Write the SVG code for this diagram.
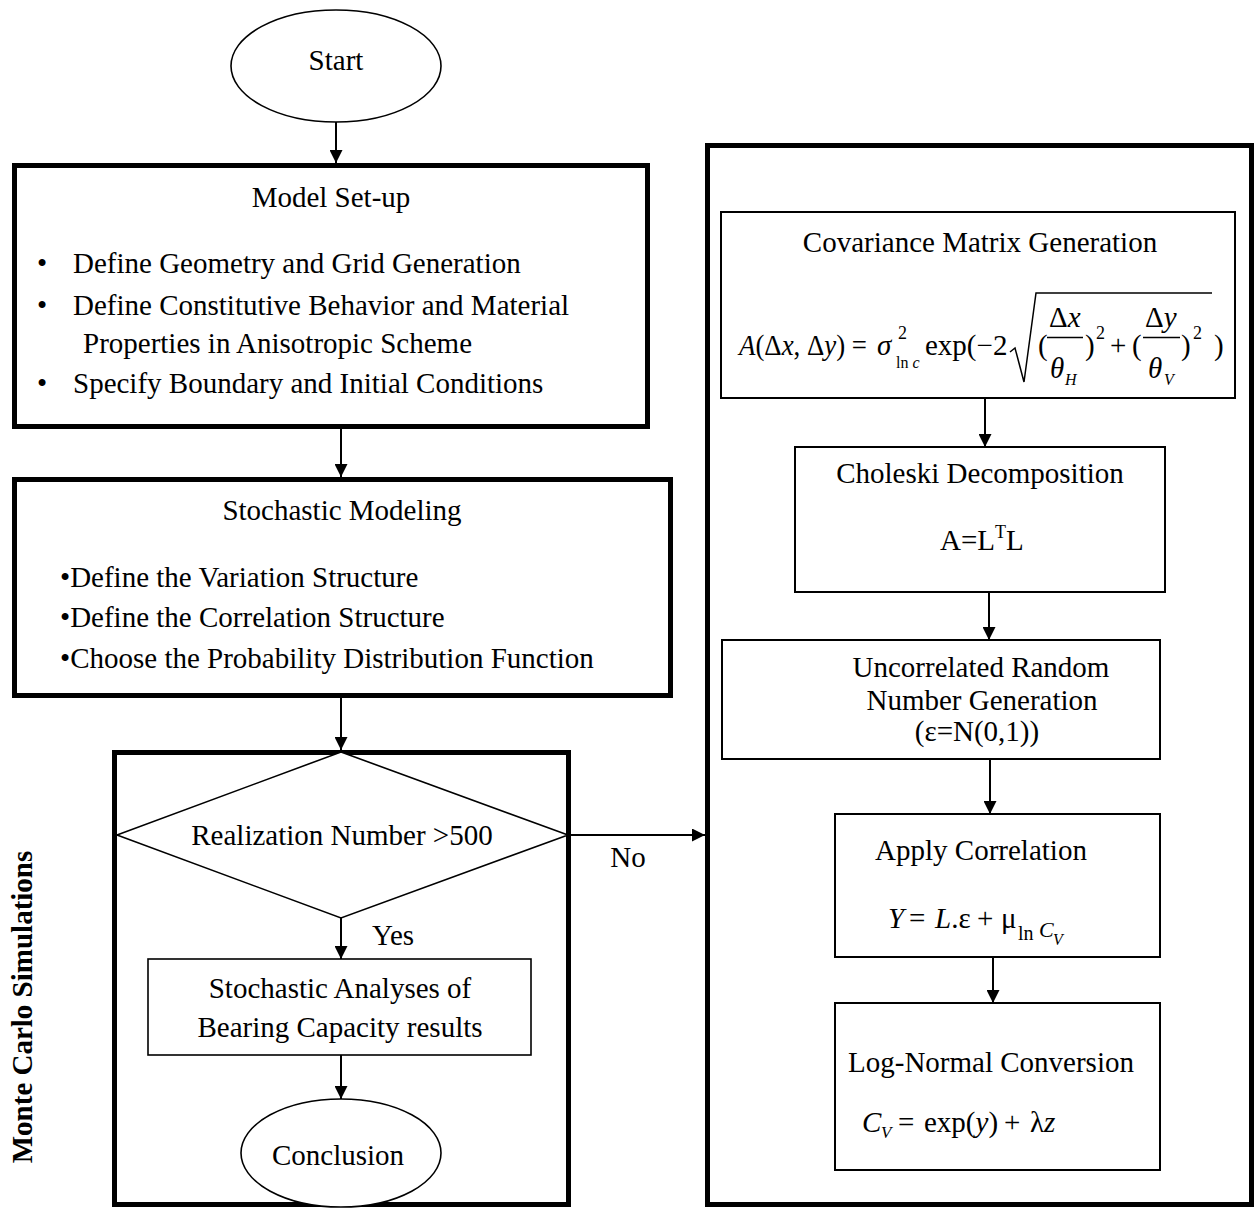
<svg xmlns="http://www.w3.org/2000/svg" width="1257" height="1210" viewBox="0 0 1257 1210">
<defs>
<style>
.t{font-family:"Liberation Serif","Times New Roman",serif;font-size:29px;fill:#000}
.b{font-weight:bold}
.i{font-style:italic}
.m{text-anchor:middle}
.thick{fill:none;stroke:#000;stroke-width:5}
.thin{fill:#fff;stroke:#000;stroke-width:2}
.shape{fill:#fff;stroke:#000;stroke-width:1.6}
.conn{stroke:#000;stroke-width:2;fill:none;marker-end:url(#ah)}
.rad{fill:none;stroke:#000;stroke-width:1.5}
</style>
<marker id="ah" viewBox="0 0 13 13" refX="13" refY="6.5" markerWidth="13" markerHeight="13" markerUnits="userSpaceOnUse" orient="auto">
<path d="M0,0 L13,6.5 L0,13 z" fill="#000"/>
</marker>
</defs>
<rect width="1257" height="1210" fill="#fff"/>

<g id="start">
<ellipse class="shape" cx="336" cy="66" rx="105" ry="56"/>
<text class="t m" x="336" y="70">Start</text>
</g>

<g id="model-setup">
<rect class="thick" x="14.5" y="165.5" width="633" height="261"/>
<text class="t m" x="331" y="207">Model Set-up</text>
<text class="t" x="37" y="273">•</text>
<text class="t" x="73" y="273">Define Geometry and Grid Generation</text>
<text class="t" x="37" y="315">•</text>
<text class="t" x="73" y="315">Define Constitutive Behavior and Material</text>
<text class="t" x="83" y="353">Properties in Anisotropic Scheme</text>
<text class="t" x="37" y="393">•</text>
<text class="t" x="73" y="393">Specify Boundary and Initial Conditions</text>
</g>

<g id="stochastic-modeling">
<rect class="thick" x="14.5" y="479.5" width="656" height="216"/>
<text class="t m" x="342" y="520">Stochastic Modeling</text>
<text class="t" x="60" y="587">•Define the Variation Structure</text>
<text class="t" x="60" y="627">•Define the Correlation Structure</text>
<text class="t" x="60" y="668">•Choose the Probability Distribution Function</text>
</g>

<g id="monte-carlo">
<rect class="thick" x="114.5" y="752.5" width="454" height="452"/>
<text class="t b m" transform="translate(32,1007) rotate(-90)">Monte Carlo Simulations</text>
</g>

<g id="decision">
<polygon class="shape" points="341,752 568,835 341,918 117,835"/>
<text class="t m" x="342" y="845">Realization Number &gt;500</text>
</g>

<g id="stochastic-analyses">
<rect class="shape" x="148" y="959" width="383" height="96"/>
<text class="t m" x="340" y="998">Stochastic Analyses of</text>
<text class="t m" x="340" y="1037">Bearing Capacity results</text>
</g>

<g id="conclusion">
<ellipse class="shape" cx="341" cy="1153" rx="100" ry="54"/>
<text class="t m" x="338" y="1165">Conclusion</text>
</g>

<g id="field-generation">
<rect class="thick" x="707.5" y="145.5" width="544" height="1059"/>
</g>

<g id="covariance">
<rect class="thin" x="721" y="212" width="514" height="186"/>
<text class="t m" x="980" y="252">Covariance Matrix Generation</text>
<text class="t" x="739" y="355" textLength="128" lengthAdjust="spacingAndGlyphs"><tspan class="i">A</tspan>(Δ<tspan class="i">x</tspan>, Δ<tspan class="i">y</tspan>) =</text>
<text class="t i" x="877" y="355">σ</text>
<text class="t" x="898" y="339" style="font-size:18px">2</text>
<text class="t" x="896" y="368" style="font-size:16px">ln<tspan class="i"> c</tspan></text>
<text class="t" x="925" y="355">exp(−2</text>
<path class="rad" d="M1010,352 L1015,348 L1024,382 L1036,293 L1212,293"/>
<text class="t" x="1038" y="355">(</text>
<text class="t" x="1049" y="327">Δ<tspan class="i">x</tspan></text>
<line x1="1047" y1="337.5" x2="1083" y2="337.5" stroke="#000" stroke-width="1.5"/>
<text class="t i" x="1050" y="378">θ</text>
<text class="t i" x="1065" y="385" style="font-size:16px">H</text>
<text class="t" x="1085" y="355">)</text>
<text class="t" x="1096" y="339" style="font-size:18px">2</text>
<text class="t" x="1110" y="355">+</text>
<text class="t" x="1132" y="355">(</text>
<text class="t" x="1145" y="327">Δ<tspan class="i">y</tspan></text>
<line x1="1143" y1="337.5" x2="1180" y2="337.5" stroke="#000" stroke-width="1.5"/>
<text class="t i" x="1148" y="378">θ</text>
<text class="t i" x="1164" y="385" style="font-size:16px">V</text>
<text class="t" x="1181" y="355">)</text>
<text class="t" x="1193" y="339" style="font-size:18px">2</text>
<text class="t" x="1214" y="355">)</text>
</g>

<g id="choleski">
<rect class="thin" x="795" y="447" width="370" height="145"/>
<text class="t m" x="980" y="483">Choleski Decomposition</text>
<text class="t" x="940" y="550">A=L<tspan dy="-12" style="font-size:18px">T</tspan><tspan dy="12">L</tspan></text>
</g>

<g id="uncorrelated">
<rect class="thin" x="722" y="640" width="438" height="119"/>
<text class="t m" x="981" y="677">Uncorrelated Random</text>
<text class="t m" x="982" y="710">Number Generation</text>
<text class="t m" x="977" y="741">(ε=N(0,1))</text>
</g>

<g id="apply-correlation">
<rect class="thin" x="835" y="814" width="325" height="143"/>
<text class="t m" x="981" y="860">Apply Correlation</text>
<text class="t i" x="888" y="928">Y</text>
<text class="t" x="909" y="928">=</text>
<text class="t" x="935" y="928"><tspan class="i">L</tspan>.ε</text>
<text class="t" x="977" y="928">+</text>
<text class="t" x="1001" y="928">μ</text>
<text class="t" x="1018" y="940" style="font-size:20px">ln</text>
<text class="t i" x="1039" y="937" style="font-size:22px">C</text>
<text class="t i" x="1053" y="945" style="font-size:16px">V</text>
</g>

<g id="lognormal">
<rect class="thin" x="835" y="1003" width="325" height="167"/>
<text class="t m" x="991" y="1072">Log-Normal Conversion</text>
<text class="t i" x="862" y="1132">C</text>
<text class="t i" x="881" y="1138" style="font-size:17px">V</text>
<text class="t" x="898" y="1132">=</text>
<text class="t" x="924" y="1132">exp(<tspan class="i">y</tspan>)</text>
<text class="t" x="1004" y="1132">+</text>
<text class="t" x="1030" y="1132">λ<tspan class="i">z</tspan></text>
</g>

<g id="connectors">
<line class="conn" x1="336" y1="122" x2="336" y2="163"/>
<line class="conn" x1="341" y1="428" x2="341" y2="477"/>
<line class="conn" x1="341" y1="698" x2="341" y2="750"/>
<line class="conn" x1="341" y1="918" x2="341" y2="959"/>
<line class="conn" x1="341" y1="1055" x2="341" y2="1099"/>
<line class="conn" x1="568" y1="835" x2="705" y2="835"/>
<text class="t m" x="628" y="867">No</text>
<text class="t m" x="393" y="945">Yes</text>
<line class="conn" x1="985" y1="398" x2="985" y2="447"/>
<line class="conn" x1="989" y1="592" x2="989" y2="640"/>
<line class="conn" x1="990" y1="759" x2="990" y2="814"/>
<line class="conn" x1="993" y1="957" x2="993" y2="1003"/>
</g>
</svg>
